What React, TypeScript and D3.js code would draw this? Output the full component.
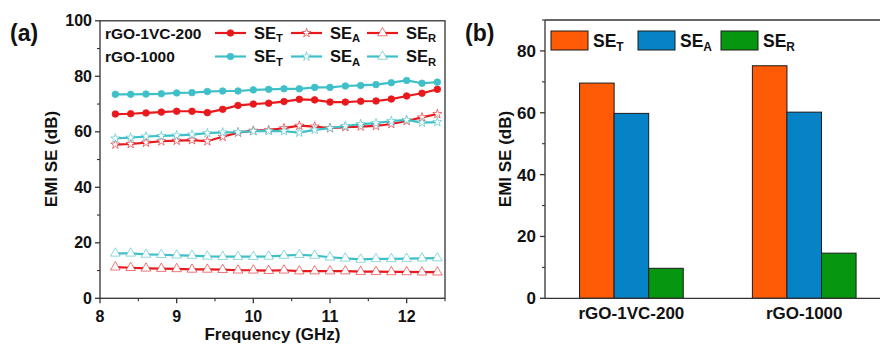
import React from "react";
import * as d3 from "d3";

const freq = [8.2, 8.4, 8.6, 8.8, 9.0, 9.2, 9.4, 9.6, 9.8, 10.0, 10.2, 10.4, 10.6, 10.8, 11.0, 11.2, 11.4, 11.6, 11.8, 12.0, 12.2, 12.4];
const vcSET = [66.4, 66.5, 66.8, 67.1, 67.4, 67.4, 66.9, 68.1, 69.5, 70.0, 70.3, 70.9, 71.7, 71.5, 70.7, 70.7, 71.0, 71.1, 71.8, 72.9, 73.9, 75.3];
const vcSEA = [55.4, 55.6, 56.1, 56.6, 56.8, 57.0, 56.6, 58.2, 59.7, 60.4, 60.6, 61.3, 62.2, 61.9, 61.3, 61.7, 61.9, 62.1, 62.8, 63.9, 65.2, 66.4];
const vcSER = [11.2, 11.0, 10.8, 10.7, 10.6, 10.4, 10.4, 10.3, 10.1, 10.1, 9.95, 10.1, 9.8, 9.8, 9.8, 9.8, 9.6, 9.6, 9.5, 9.5, 9.4, 9.4];
const gSET = [73.5, 73.5, 73.6, 73.7, 74.0, 74.1, 74.5, 74.7, 74.7, 75.1, 75.3, 75.5, 75.5, 76.0, 76.0, 76.5, 76.7, 77.0, 77.7, 78.5, 77.5, 77.9];
const gSEA = [57.6, 57.9, 58.3, 58.5, 58.7, 59.0, 59.5, 59.8, 59.9, 60.2, 60.3, 60.2, 59.7, 60.7, 61.3, 62.1, 62.8, 63.1, 63.9, 64.3, 63.3, 63.5];
const gSER = [16.2, 16.2, 15.8, 15.7, 15.5, 15.4, 15.1, 15.0, 15.0, 15.0, 15.1, 15.4, 15.7, 15.4, 14.8, 14.4, 14.0, 14.2, 14.2, 14.3, 14.4, 14.5];

const samples = ["rGO-1VC-200", "rGO-1000"];
const barSET = [69.6, 75.2];
const barSEA = [59.8, 60.2];
const barSER = [9.7, 14.6];

const xTicksA = [8, 9, 10, 11, 12];
const xMinorA = [8.5, 9.5, 10.5, 11.5, 12.5];
const yTicksA = [0, 20, 40, 60, 80, 100];
const yMinorA = [10, 30, 50, 70, 90];
const yTicksB = [0, 20, 40, 60, 80];
const yMinorB = [10, 30, 50, 70, 90];

const RED = "#e8191c";
const CYAN = "#3fc0c8";
const ORANGE = "#ff5a05";
const BLUE = "#0683c6";
const GREEN = "#07960f";
const AX = "#333";
const FONT = "'Liberation Sans', Arial, sans-serif";

const xA = d3.scaleLinear().domain([8, 12.5]).range([100, 445]);
const yA = d3.scaleLinear().domain([0, 100]).range([298.3, 20.8]);
const xB = d3.scaleLinear().domain([-0.5, 1.45]).range([545, 882]);
const yB = d3.scaleLinear().domain([0, 90]).range([298.3, 20]);
const barW = xB(0.2) - xB(0);

type Kind = "circle" | "star" | "triangle";

function Marker({ kind, x, y, color }: { kind: Kind; x: number; y: number; color: string }) {
  if (kind === "circle") {
    return <circle cx={x} cy={y} r={3.3} fill={color} stroke={color} strokeWidth={0.8} />;
  }
  const sym = kind === "star" ? d3.symbol().type(d3.symbolStar).size(26) : d3.symbol().type(d3.symbolTriangle).size(40);
  return <path d={sym() || ""} transform={`translate(${x},${y})`} fill="#fff" stroke={color} strokeWidth={0.8} strokeOpacity={0.75} />;
}

function Series({ vals, color, kind }: { vals: number[]; color: string; kind: Kind }) {
  const line = d3.line<number>().x((_, i) => xA(freq[i])).y((d) => yA(d));
  return (
    <g>
      <path d={line(vals) || ""} fill="none" stroke={color} strokeWidth={2.2} />
      {vals.map((v, i) => (
        <Marker key={i} kind={kind} x={xA(freq[i])} y={yA(v)} color={color} />
      ))}
    </g>
  );
}

function SubLabel({ x, y, sub, size }: { x: number; y: number; sub: string; size: number }) {
  return (
    <text x={x} y={y} fontSize={size} fontWeight="bold" fontFamily={FONT} fill="#111">
      SE
      <tspan fontSize={size * 0.68} dy={size * 0.22}>{sub}</tspan>
    </text>
  );
}

function LegendLine({ x, y, color, kind, sub }: { x: number; y: number; color: string; kind: Kind; sub: string }) {
  return (
    <g>
      <line x1={x} x2={x + 31} y1={y} y2={y} stroke={color} strokeWidth={2.2} />
      <Marker kind={kind} x={x + 15.5} y={y} color={color} />
      <SubLabel x={x + 39} y={y + 5.5} sub={sub} size={16.5} />
    </g>
  );
}

export default function App() {
  const y0A = yA(0);
  const y0B = yB(0);
  const rows = [
    { label: samples[0], color: RED, y: 33, sets: [vcSET, vcSEA, vcSER] },
    { label: samples[1], color: CYAN, y: 56.5, sets: [gSET, gSEA, gSER] },
  ];
  const kinds: Kind[] = ["circle", "star", "triangle"];
  const subs = ["T", "A", "R"];
  const legX = [215, 291, 367];
  const barSeries = [
    { vals: barSET, color: ORANGE, sub: "T" },
    { vals: barSEA, color: BLUE, sub: "A" },
    { vals: barSER, color: GREEN, sub: "R" },
  ];
  const barLegX = [551, 638, 721];

  return (
    <div style={{ position: "absolute", left: 0, top: 0, width: 880, height: 347, background: "#fff" }}>
      <svg width={880} height={347} style={{ display: "block" }}>
        <rect x={0} y={0} width={880} height={347} fill="#fff" />
        {/* Panel (a) */}
        <text x={10} y={41} fontSize={23} fontWeight="bold" fontFamily={FONT} fill="#111">(a)</text>
        {rows.map((r, ri) =>
          r.sets.map((vals, k) => <Series key={`${ri}-${k}`} vals={vals} color={r.color} kind={kinds[k]} />)
        )}
        <rect x={xA(8)} y={yA(100)} width={xA(12.5) - xA(8)} height={yA(0) - yA(100)} fill="none" stroke={AX} strokeWidth={1.3} />
        {yTicksA.map((t) => (
          <g key={t}>
            <line x1={xA(8) - 5} x2={xA(8)} y1={yA(t)} y2={yA(t)} stroke={AX} strokeWidth={1.3} />
            <text x={xA(8) - 8} y={yA(t) + 5.5} textAnchor="end" fontSize={16} fontWeight="bold" fontFamily={FONT} fill="#111">{t}</text>
          </g>
        ))}
        {yMinorA.map((t) => (
          <line key={t} x1={xA(8) - 3} x2={xA(8)} y1={yA(t)} y2={yA(t)} stroke={AX} strokeWidth={1.1} />
        ))}
        {xTicksA.map((t) => (
          <g key={t}>
            <line x1={xA(t)} x2={xA(t)} y1={y0A} y2={y0A + 5} stroke={AX} strokeWidth={1.3} />
            <text x={xA(t)} y={y0A + 23.5} textAnchor="middle" fontSize={16} fontWeight="bold" fontFamily={FONT} fill="#111">{t}</text>
          </g>
        ))}
        {xMinorA.map((t) => (
          <line key={t} x1={xA(t)} x2={xA(t)} y1={y0A} y2={y0A + 3} stroke={AX} strokeWidth={1.1} />
        ))}
        <text x={272.5} y={340} textAnchor="middle" fontSize={17} fontWeight="bold" fontFamily={FONT} fill="#111">Frequency (GHz)</text>
        <text transform={`translate(57,159) rotate(-90)`} textAnchor="middle" fontSize={17} fontWeight="bold" fontFamily={FONT} fill="#111">EMI SE (dB)</text>
        {rows.map((r, ri) => (
          <g key={ri}>
            <text x={105} y={r.y + 5.5} fontSize={15.5} fontWeight="bold" fontFamily={FONT} fill="#111">{r.label}</text>
            {kinds.map((k, ki) => (
              <LegendLine key={ki} x={legX[ki]} y={r.y} color={r.color} kind={k} sub={subs[ki]} />
            ))}
          </g>
        ))}

        {/* Panel (b) */}
        <text x={465} y={41} fontSize={23} fontWeight="bold" fontFamily={FONT} fill="#111">(b)</text>
        {barSeries.map((s, si) =>
          s.vals.map((v, ci) => (
            <rect
              key={`${si}-${ci}`}
              x={xB(ci) + (si - 1.5) * barW}
              y={yB(v)}
              width={barW}
              height={y0B - yB(v)}
              fill={s.color}
              stroke="#1a1a1a"
              strokeWidth={1}
            />
          ))
        )}
        <line x1={545} x2={880} y1={yB(90)} y2={yB(90)} stroke={AX} strokeWidth={1.3} />
        <line x1={545} x2={880} y1={y0B} y2={y0B} stroke={AX} strokeWidth={1.3} />
        <line x1={545} x2={545} y1={yB(90)} y2={y0B} stroke={AX} strokeWidth={1.3} />
        {yTicksB.map((t) => (
          <g key={t}>
            <line x1={540} x2={545} y1={yB(t)} y2={yB(t)} stroke={AX} strokeWidth={1.3} />
            <text x={536} y={yB(t) + 6} textAnchor="end" fontSize={17} fontWeight="bold" fontFamily={FONT} fill="#111">{t}</text>
          </g>
        ))}
        {yMinorB.map((t) => (
          <line key={t} x1={542} x2={545} y1={yB(t)} y2={yB(t)} stroke={AX} strokeWidth={1.1} />
        ))}
        {samples.map((s, i) => (
          <text key={s} x={xB(i)} y={319} textAnchor="middle" fontSize={17} fontWeight="bold" fontFamily={FONT} fill="#111">{s}</text>
        ))}
        <text transform={`translate(511,159) rotate(-90)`} textAnchor="middle" fontSize={17} fontWeight="bold" fontFamily={FONT} fill="#111">EMI SE (dB)</text>
        {barSeries.map((s, si) => (
          <g key={si}>
            <rect x={barLegX[si]} y={31} width={37} height={19} fill={s.color} stroke="#1a1a1a" strokeWidth={1} />
            <SubLabel x={barLegX[si] + 42} y={47} sub={s.sub} size={17.5} />
          </g>
        ))}
      </svg>
    </div>
  );
}
